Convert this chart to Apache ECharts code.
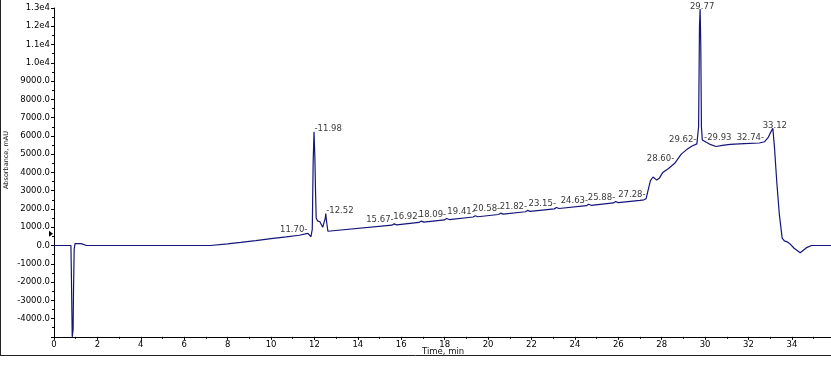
<!DOCTYPE html>
<html>
<head>
<meta charset="utf-8">
<script src="https://cdn.jsdelivr.net/npm/echarts@6/dist/echarts.min.js"></script>
<style>
html,body{margin:0;padding:0;background:#fff;}
#chart{width:831px;height:366px;}
</style>
</head>
<body>
<div id="chart"></div>
<script>
// ---- Data ----
const times = [
  0, 0.78, 0.80, 0.84, 0.88, 0.90, 0.93, 0.97, 1.25, 1.5,
  7.2, 8.0, 8.6, 9.3, 10.0, 10.7, 11.3, 11.70, 11.78, 11.84,
  11.90, 11.94, 11.98, 12.02, 12.05, 12.08, 12.14, 12.25, 12.38, 12.46,
  12.50, 12.52, 12.56, 12.62, 12.70,
  15.57, 15.67, 15.79, 16.82, 16.92, 17.04, 17.99, 18.09, 18.21,
  19.31, 19.41, 19.53, 20.48, 20.58, 20.70, 21.72, 21.82, 21.94,
  23.05, 23.15, 23.27, 24.53, 24.63, 24.75, 25.78, 25.88, 26.00,
  27.0, 27.18, 27.28, 27.36, 27.48, 27.6, 27.77, 27.9, 28.05, 28.3,
  28.6, 28.9, 29.15, 29.4, 29.62, 29.70, 29.74, 29.77, 29.80, 29.83,
  29.87, 29.93, 30.2, 30.5, 30.8, 31.15, 31.8, 32.5, 32.74, 32.9,
  33.0, 33.12, 33.2, 33.3, 33.42, 33.55, 33.65, 33.78, 33.9, 34.1,
  34.38, 34.7, 34.9, 35.3, 35.8
];
const absorbance = [
  0, 0, -1500, -5000, -4600, -2400, -200, 100, 100, 0,
  0, 90, 170, 270, 380, 470, 560, 660, 560, 480,
  900, 4500, 6220, 4800, 3000, 1500, 1350, 1300, 1000, 950,
  1500, 1750, 1300, 780, 770,
  1112, 1185, 1130, 1262, 1335, 1280, 1401, 1475, 1420,
  1559, 1630, 1575, 1698, 1770, 1715, 1846, 1920, 1865,
  2005, 2080, 2025, 2181, 2255, 2200, 2330, 2405, 2350,
  2475, 2500, 2560, 2580, 3550, 3750, 3580, 3700, 4000, 4200,
  4500, 5000, 5250, 5450, 5560, 6500, 12000, 12950, 11000, 6500,
  5780, 5720, 5550, 5420, 5480, 5540, 5580, 5610, 5680, 5900,
  6150, 6420, 5300, 3500, 1700, 400, 250, 200, 100, -150,
  -400, -100, 0, 0, 0
];
const peakLabels = ['11.70','11.98','12.52','15.67','16.92','18.09','19.41','20.58','21.82',
  '23.15','24.63','25.88','27.28','28.60','29.62','29.77','29.93','32.74','33.12'];
const xTickValues = [0,2,4,6,8,10,12,14,16,18,20,22,24,26,28,30,32,34];
const startMarkerValue = 650;

// ---- Styling config ----
const rightLabelled = ['11.98','12.52','29.93'];
const topLabelled = ['29.77','33.12'];
const FONT = 'DejaVu Sans';
const LINE_COLOR = '#14147a';

const traceData = times.map((t, i) => [t, absorbance[i]]);

function valueAt(t) {
  const idx = times.findIndex(x => Math.abs(x - t) < 1e-9);
  if (idx >= 0) return absorbance[idx];
  for (let i = 1; i < times.length; i++) {
    if (times[i] >= t) {
      const f = (t - times[i-1]) / (times[i] - times[i-1]);
      return absorbance[i-1] + f * (absorbance[i] - absorbance[i-1]);
    }
  }
  return 0;
}

const labelData = peakLabels.map(name => {
  const t = parseFloat(name);
  let label;
  if (topLabelled.includes(name)) {
    label = {position: 'top', distance: 0, formatter: '{b}', offset: [2, 3]};
  } else if (rightLabelled.includes(name)) {
    label = {position: 'right', distance: 0, formatter: '-{b}', offset: [0, -3]};
  } else {
    label = {position: 'left', distance: 0, formatter: '{b}-', offset: [0, -4]};
  }
  return {name: name, value: [t, valueAt(t)], label: label};
});

const chart = echarts.init(document.getElementById('chart'), null, {renderer: 'canvas'});

const labelText = {fontFamily: FONT, fontSize: 8.5, color: '#000'};

chart.setOption({
  animation: false,
  backgroundColor: '#fff',
  grid: {left: 54, right: 0, top: 8, bottom: 29.15, containLabel: false},
  xAxis: {
    type: 'value',
    min: 0, max: 35.8, interval: 2,
    axisLine: {show: true, onZero: false, lineStyle: {color: '#000', width: 1}},
    axisTick: {show: true, length: 3, lineStyle: {color: '#000'}},
    minorTick: {show: true, splitNumber: 2, length: 2, lineStyle: {color: '#000'}},
    splitLine: {show: false},
    minorSplitLine: {show: false},
    axisLabel: Object.assign({margin: 3, showMaxLabel: false,
      formatter: v => xTickValues.includes(v) ? String(v) : ''}, labelText)
  },
  yAxis: {
    type: 'value',
    min: -5000, max: 13000, interval: 1000,
    axisLine: {show: true, onZero: false, lineStyle: {color: '#000', width: 1}},
    axisTick: {show: true, length: 3, lineStyle: {color: '#000'}},
    minorTick: {show: true, splitNumber: 2, length: 2, lineStyle: {color: '#000'}},
    splitLine: {show: false},
    minorSplitLine: {show: false},
    axisLabel: Object.assign({margin: 4, formatter: v => {
      if (v === -5000) return '';
      if (Math.abs(v) >= 10000) return (v / 10000).toFixed(1) + 'e4';
      return v.toFixed(1);
    }}, labelText)
  },
  series: [
    {
      type: 'line',
      data: traceData,
      showSymbol: false,
      symbol: 'none',
      lineStyle: {color: LINE_COLOR, width: 1.2},
      silent: true,
      z: 5
    },
    {
      type: 'scatter',
      data: labelData,
      symbolSize: 1,
      itemStyle: {color: 'rgba(0,0,0,0)'},
      label: Object.assign({show: true}, labelText),
      silent: true
    }
  ],
  graphic: [
    {type: 'text', left: 3, top: 131, rotation: Math.PI / 2,
      style: {text: 'Absorbance, mAU', fontFamily: FONT, fontSize: 6.5, fill: '#111'}},
    {type: 'text', left: 422, top: 347,
      style: {text: 'Time, min', fontFamily: FONT, fontSize: 8.5, fill: '#111'}},
    {type: 'line', shape: {x1: 0.5, y1: 0, x2: 0.5, y2: 355.5}, style: {stroke: '#222', lineWidth: 1}},
    {type: 'line', shape: {x1: 0, y1: 355.5, x2: 831, y2: 355.5}, style: {stroke: '#222', lineWidth: 1}}
  ]
});

// start-of-run marker on the y axis
const p = chart.convertToPixel({gridIndex: 0}, [0, startMarkerValue]);
chart.setOption({graphic: chart.getOption().graphic[0].elements.concat([
  {type: 'polygon', shape: {points: [[p[0] - 5, p[1] - 3], [p[0] - 1, p[1]], [p[0] - 5, p[1] + 3]]},
    style: {fill: '#000'}}
])});
</script>
</body>
</html>
